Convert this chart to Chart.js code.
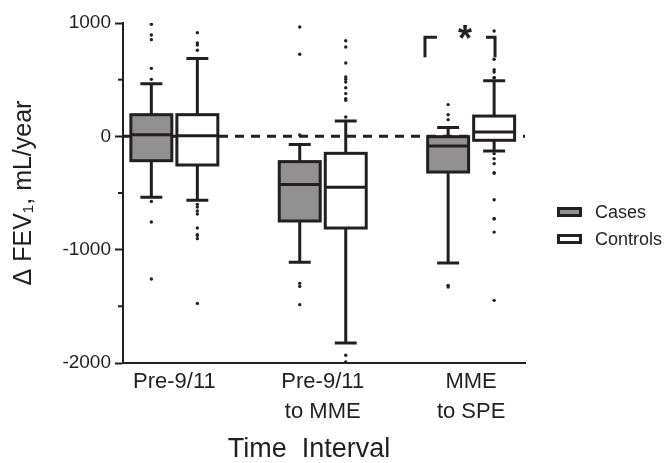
<!DOCTYPE html>
<html>
<head>
<meta charset="utf-8">
<script src="https://cdn.jsdelivr.net/npm/chart.js@4"></script>
<style>
    body { margin: 0; background: #fff; }
    canvas { display: block; }
</style>
</head>
<body>
<canvas id="fevChart" width="666" height="463"></canvas>
<script>
const categories = ['Pre-9/11', ['Pre-9/11', 'to MME'], ['MME', 'to SPE']];

// box stats per time interval (mL/year)
const casesQ1 = [-215, -747, -315];
const casesMedian = [15, -426, -85];
const casesQ3 = [191, -223, -3];
const casesLow = [-538, -1112, -1118];
const casesHigh = [465, -71, 79];
const casesOutliers = [
    [988, 894, 853, 600, 503, -574, -756, -1259],
    [965, 724, 12, -1297, -1324, -1485],
    [280, 191, 147, -1315, -1330]
];

const controlsQ1 = [-253, -809, -35];
const controlsMedian = [6, -450, 38];
const controlsQ3 = [191, -150, 179];
const controlsLow = [-565, -1824, -130];
const controlsHigh = [686, 135, 491];
const controlsOutliers = [
    [915, 823, 806, 759, -600, -624, -659, -685, -809, -868, -874, -903, -1474],
    [844, 788, 647, 523, 503, 479, 429, 377, 333, 318, 170, -1932, -1991],
    [929, 680, 588, 568, 518, 518, -153, -197, -241, -324, -324, -559, -727, -727, -845, -1447]
];

const yTicks = [-2000, -1000, 0, 1000];
const yMinorTicks = [-1500, -500, 500];

const INK = '#231f20';
const CASE_FILL = '#919191';
const FONT = "'Liberation Sans', Arial, sans-serif";
const OFFSET = 0.155;   // half distance between the two boxes of a group (x units)
const HALF_BOX = 0.138;
const HALF_CAP = 0.074;

function outlierPoints(list, shift) {
    const pts = [];
    list.forEach((vals, i) => vals.forEach(v => pts.push({ x: i + shift, y: v })));
    return pts;
}

const boxPlugin = {
    id: 'boxes',
    beforeDatasetsDraw(chart) {
        const { ctx, chartArea } = chart;
        const xs = chart.scales.x;
        const ys = chart.scales.y;

        // zero reference line
        ctx.save();
        ctx.strokeStyle = INK;
        ctx.lineWidth = 3;
        ctx.setLineDash([9, 7]);
        ctx.beginPath();
        ctx.moveTo(chartArea.left, ys.getPixelForValue(0));
        ctx.lineTo(chartArea.right, ys.getPixelForValue(0));
        ctx.stroke();
        ctx.restore();

        const drawBox = (center, q1, med, q3, lo, hi, fill) => {
            const xl = xs.getPixelForValue(center - HALF_BOX);
            const xr = xs.getPixelForValue(center + HALF_BOX);
            const xc = xs.getPixelForValue(center);
            const cl = xs.getPixelForValue(center - HALF_CAP);
            const cr = xs.getPixelForValue(center + HALF_CAP);
            const yq1 = ys.getPixelForValue(q1);
            const yq3 = ys.getPixelForValue(q3);
            const ym = ys.getPixelForValue(med);
            const ylo = ys.getPixelForValue(lo);
            const yhi = ys.getPixelForValue(hi);
            ctx.save();
            ctx.strokeStyle = INK;
            ctx.lineWidth = 3;
            ctx.beginPath();
            ctx.moveTo(xc, yhi); ctx.lineTo(xc, yq3);
            ctx.moveTo(xc, yq1); ctx.lineTo(xc, ylo);
            ctx.moveTo(cl, yhi); ctx.lineTo(cr, yhi);
            ctx.moveTo(cl, ylo); ctx.lineTo(cr, ylo);
            ctx.stroke();
            ctx.fillStyle = fill;
            ctx.fillRect(xl, yq3, xr - xl, yq1 - yq3);
            ctx.strokeRect(xl, yq3, xr - xl, yq1 - yq3);
            ctx.beginPath();
            ctx.moveTo(xl, ym); ctx.lineTo(xr, ym);
            ctx.stroke();
            ctx.restore();
        };

        categories.forEach((c, i) => {
            drawBox(i - OFFSET, casesQ1[i], casesMedian[i], casesQ3[i], casesLow[i], casesHigh[i], CASE_FILL);
            drawBox(i + OFFSET, controlsQ1[i], controlsMedian[i], controlsQ3[i], controlsLow[i], controlsHigh[i], '#ffffff');
        });
    },
    afterDraw(chart) {
        const { ctx, chartArea } = chart;
        const xs = chart.scales.x;
        const ys = chart.scales.y;
        ctx.save();
        ctx.strokeStyle = INK;
        ctx.lineWidth = 2;

        // minor y ticks
        yMinorTicks.forEach(v => {
            const y = ys.getPixelForValue(v);
            ctx.beginPath();
            ctx.moveTo(chartArea.left - 5, y);
            ctx.lineTo(chartArea.left, y);
            ctx.stroke();
        });

        // significance bracket
        ctx.lineWidth = 3;
        const bTop = ys.getPixelForValue(874);
        const bBot = ys.getPixelForValue(697);
        ctx.beginPath();
        ctx.moveTo(xs.getPixelForValue(1.689), bBot);
        ctx.lineTo(xs.getPixelForValue(1.689), bTop);
        ctx.lineTo(xs.getPixelForValue(1.77), bTop);
        ctx.moveTo(xs.getPixelForValue(2.1), bTop);
        ctx.lineTo(xs.getPixelForValue(2.161), bTop);
        ctx.lineTo(xs.getPixelForValue(2.161), bBot);
        ctx.stroke();

        ctx.fillStyle = INK;
        ctx.font = 'bold 36px ' + FONT;
        ctx.textAlign = 'center';
        ctx.textBaseline = 'alphabetic';
        ctx.fillText('*', xs.getPixelForValue(1.959), ys.getPixelForValue(750));

        // legend
        const items = [['Cases', CASE_FILL, 212], ['Controls', '#ffffff', 239]];
        ctx.font = '18px ' + FONT;
        ctx.textAlign = 'left';
        ctx.textBaseline = 'middle';
        items.forEach(([label, fill, y]) => {
            ctx.fillStyle = fill;
            ctx.fillRect(558.5, y - 3.5, 22, 7);
            ctx.strokeRect(558.5, y - 3.5, 22, 7);
            ctx.fillStyle = INK;
            ctx.fillText(label, 595, y + 1);
        });
        ctx.restore();
    }
};

const ctx = document.getElementById('fevChart').getContext('2d');
new Chart(ctx, {
    type: 'scatter',
    data: {
        datasets: [
            {
                label: 'Cases',
                data: outlierPoints(casesOutliers, -OFFSET),
                backgroundColor: INK,
                borderWidth: 0,
                pointRadius: 1.7
            },
            {
                label: 'Controls',
                data: outlierPoints(controlsOutliers, OFFSET),
                backgroundColor: INK,
                borderWidth: 0,
                pointRadius: 1.7
            }
        ]
    },
    options: {
        responsive: false,
        devicePixelRatio: 1,
        animation: false,
        layout: { padding: { top: 23, right: 141, left: 0, bottom: 0 } },
        plugins: {
            legend: { display: false },
            tooltip: { enabled: false }
        },
        scales: {
            x: {
                type: 'linear',
                min: -0.346,
                max: 2.363,
                afterBuildTicks: scale => {
                    scale.ticks = categories.map((c, i) => ({ value: i }));
                },
                afterFit: scale => { scale.height = 100; },
                ticks: {
                    callback: v => categories[v],
                    color: INK,
                    padding: 4,
                    maxRotation: 0,
                    autoSkip: false,
                    font: { family: FONT, size: 22, lineHeight: 1.36 }
                },
                grid: { drawOnChartArea: false, drawTicks: false },
                border: { color: INK, width: 2 },
                title: {
                    display: true,
                    text: 'Time  Interval    ',
                    color: INK,
                    padding: { top: 0, bottom: 0 },
                    font: { family: FONT, size: 27, lineHeight: 1 }
                }
            },
            y: {
                min: -2000,
                max: 1000,
                afterBuildTicks: scale => {
                    scale.ticks = yTicks.map(v => ({ value: v }));
                },
                afterFit: scale => { scale.width = 123; },
                ticks: {
                    callback: v => String(v),
                    color: INK,
                    padding: 4,
                    font: { family: FONT, size: 19 }
                },
                grid: { drawOnChartArea: false, tickLength: 8, tickWidth: 2, tickColor: INK },
                border: { color: INK, width: 2 },
                title: {
                    display: true,
                    text: 'Δ FEV₁, mL/year',
                    color: INK,
                    padding: { top: 9, bottom: 0 },
                    font: { family: FONT, size: 25 }
                }
            }
        }
    },
    plugins: [boxPlugin]
});
</script>
</body>
</html>
